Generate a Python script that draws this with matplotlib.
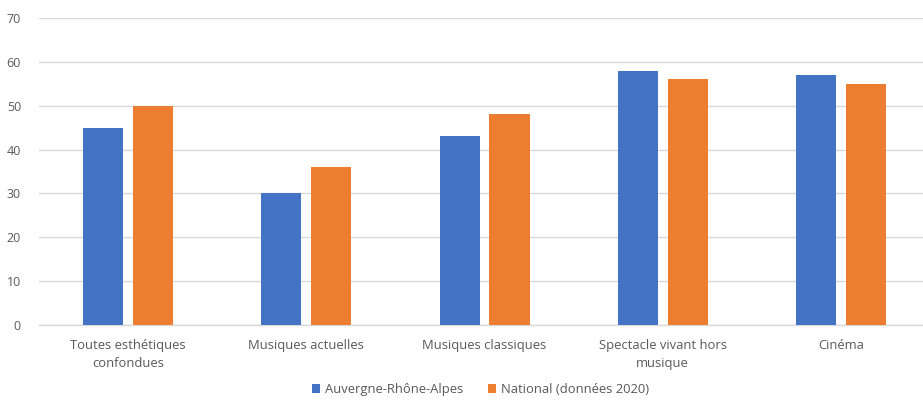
import numpy as np
import matplotlib
matplotlib.use("Agg")
import matplotlib.pyplot as plt

plt.rcParams['font.family'] = ['Open Sans', 'DejaVu Sans']

categories = ['Toutes esthétiques\nconfondues', 'Musiques actuelles', 'Musiques classiques',
              'Spectacle vivant hors\nmusique', 'Cinéma']
aura = [45, 30, 43, 58, 57]
national = [50, 36, 48, 56, 55]

text_col = '#595959'
blue = '#4472C4'
orange = '#ED7D31'

fig = plt.figure(figsize=(9.23, 4.0), dpi=100)
ax = fig.add_axes([0.0423, 0.1875, 0.9653, 0.7675])

x = np.arange(len(categories))
w = 0.225
ax.bar(x - 0.14, aura, w, color=blue, label='Auvergne-Rhône-Alpes', zorder=3)
ax.bar(x + 0.14, national, w, color=orange, label='National (données 2020)', zorder=3)

ax.set_xlim(-0.5, len(categories) - 0.5)
ax.set_ylim(0, 70)
ax.set_yticks(range(0, 71, 10))
ax.grid(axis='y', color='#D9D9D9', linewidth=1, zorder=0)
for s in ['top', 'right', 'left']:
    ax.spines[s].set_visible(False)
ax.spines['bottom'].set_color('#D9D9D9')
ax.spines['bottom'].set_linewidth(1)
ax.tick_params(axis='y', length=0, colors=text_col, labelsize=9, pad=13)
ax.tick_params(axis='x', length=0, colors=text_col, labelsize=9.4, pad=10)
ax.set_xticks(x)
ax.set_xticklabels(categories, linespacing=1.5)

ax.legend(loc='center', bbox_to_anchor=(0.4955, -0.21), ncol=2, frameon=False,
          fontsize=9.4, labelcolor=text_col, handlelength=0.6, handleheight=0.6,
          handletextpad=0.4, columnspacing=1.9)

fig.savefig('out.png', dpi=100)
